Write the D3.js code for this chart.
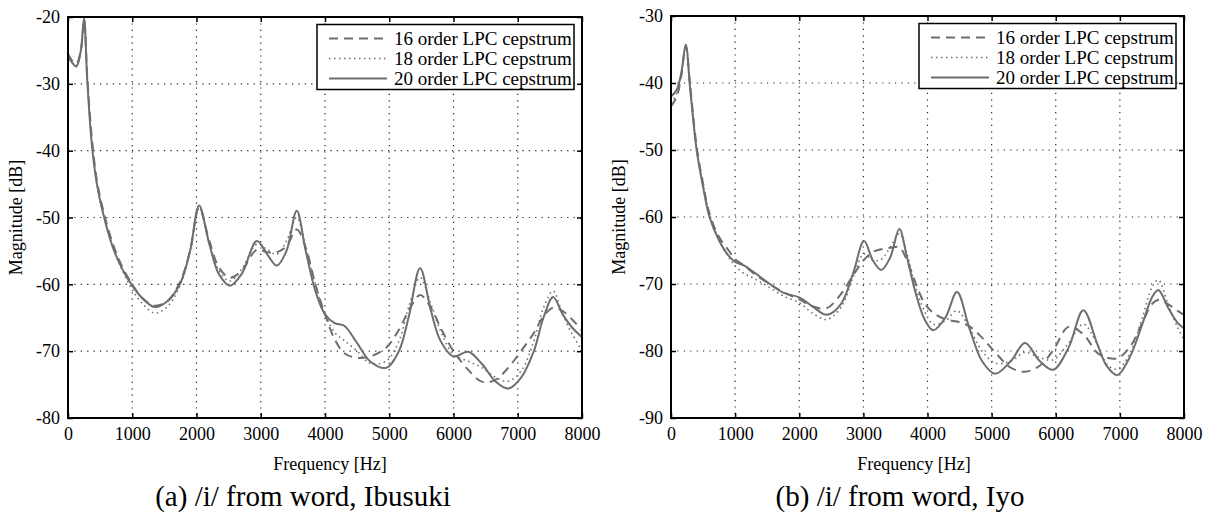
<!DOCTYPE html>
<html>
<head>
<meta charset="utf-8">
<script src="https://cdn.jsdelivr.net/npm/d3@7"></script>
<style>
    body { margin: 0; background: #fff; }
</style>
</head>
<body>
<div id="chart"></div>
<script>
// left panel: /i/ from Ibusuki
var freqA = [0, 60, 130, 200, 250, 300, 370, 450, 550, 700, 850, 1000, 1150, 1350, 1550, 1750, 1900, 2040, 2200, 2350,
    2520, 2700, 2940, 3100, 3250, 3400, 3560, 3700, 3850, 4000, 4150, 4300, 4500, 4700, 4950, 5150, 5300, 5480, 5650, 5800,
    6000, 6230, 6450, 6650, 6850, 7050, 7250, 7400, 7550, 7700, 7850, 8000];
var lpc16A = [-25.5, -26.5, -27, -25, -20.5, -29, -38, -44.5, -49, -54, -57.5, -60, -62, -63.2, -62.5, -59.5, -55, -48.5, -53.5, -57.5,
    -59, -58, -54.8, -55.2, -55.2, -54.3, -51.8, -54.5, -60, -64.5, -68.2, -70.3, -71, -70.8, -69.5, -66.8, -64, -61.6, -63.5, -66.5,
    -70, -72.8, -74.6, -74.3, -72.5, -70, -67.3, -64.8, -63.5, -64, -65.3, -66.9];
var lpc18A = [-25.6, -26.7, -27.3, -25, -20.3, -29.3, -38.5, -45, -49.5, -54.5, -58, -60.8, -62.8, -64.3, -63.3, -60, -55, -48.5, -53.8, -58,
    -59.5, -57.8, -54, -54.8, -55.5, -53.5, -50, -54.5, -60, -64.5, -67.2, -68.4, -70, -71.8, -71.5, -68.5, -63.5, -59, -63, -67,
    -70.5, -71.5, -72.5, -73.9, -74.5, -73, -68.5, -63.5, -61, -64.5, -67.5, -69.9];
var lpc20A = [-25.8, -26.8, -27.4, -25, -20.2, -29.5, -39, -45, -49.5, -54.5, -57.8, -60.2, -62, -63.4, -62.5, -59.8, -55, -48.2, -54, -58.5,
    -60.2, -58.5, -53.5, -55.5, -57.2, -55, -49, -55, -61, -64.5, -65.8, -66.2, -68.8, -71.5, -72.5, -70, -65, -57.6, -64, -68.5,
    -70.8, -70.1, -72, -74.5, -75.6, -74, -70, -65, -61.9, -64.5, -66.5, -67.9];

// right panel: /i/ from Iyo
var freqB = [0, 90, 160, 230, 300, 400, 500, 600, 750, 900, 1000, 1150, 1300, 1500, 1750, 2000, 2200, 2430, 2650, 2840,
    3010, 3150, 3280, 3420, 3560, 3680, 3800, 3950, 4090, 4280, 4460, 4650, 4850, 5055, 5300, 5520, 5750, 5960, 6200, 6430,
    6650, 6800, 6960, 7150, 7350, 7500, 7600, 7750, 7900, 8000];
var lpc16B = [-43.5, -42, -39, -34.5, -40.5, -49.5, -55, -59.5, -63, -65, -66.3, -67.3, -68.5, -69.8, -71.2, -72.3, -73.3, -73.6, -71.5, -68.7,
    -66.4, -65.2, -64.8, -64.6, -64.5, -66.5, -69.5, -72.8, -74.3, -75.3, -75.6, -76.3, -78, -80.2, -82.5, -83.1, -82.2, -79.9, -76.4, -77.5,
    -80.3, -81, -81.1, -79.5, -75.8, -73, -72.4, -73, -74, -74.6];
var lpc18B = [-43, -41.5, -38.8, -34.3, -40.8, -49.8, -55.2, -59.5, -63.5, -66, -67.3, -68.5, -69.2, -70.3, -71.8, -72.8, -74.3, -75.3, -73.5, -69,
    -65.5, -66.5, -66.3, -64.5, -62.5, -65.5, -70, -74, -76, -75.5, -74, -76.5, -80, -81.8, -81.5, -80.2, -81, -81.3, -78.8, -76,
    -79, -82, -82.7, -80.5, -75, -70.5, -69.4, -73, -76.5, -78.3];
var lpc20B = [-42, -41, -38.5, -34.3, -41, -50, -55.5, -60, -63.5, -65.8, -66.7, -67.3, -68.3, -69.7, -71.3, -72, -73.3, -74.6, -73, -68.4,
    -63.6, -66.5, -67.9, -66, -61.8, -66, -70.8, -75.2, -76.9, -75, -71.2, -76.5, -81.5, -83.4, -81.5, -78.8, -81.5, -82.8, -79.5, -73.9,
    -79, -82.3, -83.6, -81, -76, -72, -70.9, -73.5, -75.8, -76.6];

var xTicks = [0, 1000, 2000, 3000, 4000, 5000, 6000, 7000, 8000];
var yTicksA = [-80, -70, -60, -50, -40, -30, -20];
var yTicksB = [-90, -80, -70, -60, -50, -40, -30];
var seriesNames = ['16 order LPC cepstrum', '18 order LPC cepstrum', '20 order LPC cepstrum'];
var captions = ['(a) /i/ from word, Ibusuki', '(b) /i/ from word, Iyo'];

var W = 1211, H = 524;
var serif = "'Liberation Serif', 'Times New Roman', Times, serif";
var lineColour = '#6e6e6e';
var dashes = ['9,6', '1.5,3.5', null];

var svg = d3.select('#chart').append('svg')
    .attr('width', W)
    .attr('height', H)
    .style('font-family', serif);

// plain hyphen minus like the original
var tickText = function (d) { return String(d); };

var drawPanel = function (opts) {
    var x = d3.scaleLinear().domain([0, 8000]).range([opts.left, opts.right]);
    var y = d3.scaleLinear().domain(opts.yDomain).range([opts.bottom, opts.top]);
    var g = svg.append('g');

    // dotted grid
    g.selectAll('.vgrid').data(xTicks.slice(1, -1)).enter().append('line')
        .attr('x1', function (d) { return x(d); })
        .attr('x2', function (d) { return x(d); })
        .attr('y1', opts.top).attr('y2', opts.bottom)
        .attr('stroke', '#222').attr('stroke-width', 1.2).attr('stroke-dasharray', '1.2,5.2');
    g.selectAll('.hgrid').data(opts.yTicks.slice(1, -1)).enter().append('line')
        .attr('y1', function (d) { return y(d); })
        .attr('y2', function (d) { return y(d); })
        .attr('x1', opts.left).attr('x2', opts.right)
        .attr('stroke', '#222').attr('stroke-width', 1.2).attr('stroke-dasharray', '1.2,5.2');

    // curves
    var line = d3.line()
        .x(function (d) { return x(d[0]); })
        .y(function (d) { return y(d[1]); })
        .curve(d3.curveCatmullRom.alpha(0.5));

    opts.series.forEach(function (vals, i) {
        g.append('path')
            .datum(opts.freq.map(function (f, j) { return [f, vals[j]]; }))
            .attr('d', line)
            .attr('fill', 'none')
            .attr('stroke', lineColour)
            .attr('stroke-width', i === 1 ? 1.6 : 2)
            .attr('stroke-dasharray', dashes[i]);
    });

    // axes, ticks inward on all sides
    var bottom = g.append('g').attr('transform', 'translate(0,' + opts.bottom + ')')
        .call(d3.axisBottom(x).tickValues(xTicks).tickSizeInner(-5).tickSizeOuter(0).tickPadding(9).tickFormat(tickText));
    var top = g.append('g').attr('transform', 'translate(0,' + opts.top + ')')
        .call(d3.axisTop(x).tickValues(xTicks).tickSizeInner(-5).tickSizeOuter(0).tickFormat(''));
    var left = g.append('g').attr('transform', 'translate(' + opts.left + ',0)')
        .call(d3.axisLeft(y).tickValues(opts.yTicks).tickSizeInner(-5).tickSizeOuter(0).tickPadding(8).tickFormat(tickText));
    var right = g.append('g').attr('transform', 'translate(' + opts.right + ',0)')
        .call(d3.axisRight(y).tickValues(opts.yTicks).tickSizeInner(-5).tickSizeOuter(0).tickFormat(''));

    [bottom, top, left, right].forEach(function (a) {
        a.attr('font-family', null).attr('font-size', null);
        a.select('.domain').remove();
        a.selectAll('line').attr('stroke', '#000').attr('stroke-width', 1.5);
        a.selectAll('text')
            .style('font-family', serif)
            .style('font-size', '18px')
            .attr('fill', '#000');
    });

    g.append('rect')
        .attr('x', opts.left).attr('y', opts.top)
        .attr('width', opts.right - opts.left).attr('height', opts.bottom - opts.top)
        .attr('fill', 'none').attr('stroke', '#000').attr('stroke-width', 2);

    // axis titles
    g.append('text')
        .attr('x', opts.xLabelX).attr('y', 470)
        .attr('text-anchor', 'middle')
        .style('font-family', serif).style('font-size', '18px')
        .text('Frequency [Hz]');
    g.append('text')
        .attr('transform', 'translate(' + (opts.left - 46) + ',' + ((opts.top + opts.bottom) / 2) + ') rotate(-90)')
        .attr('text-anchor', 'middle')
        .style('font-family', serif).style('font-size', '18px')
        .text('Magnitude [dB]');

    // caption
    g.append('text')
        .attr('x', opts.capX).attr('y', 506)
        .attr('text-anchor', 'middle')
        .style('font-family', serif).style('font-size', '29px')
        .text(opts.caption);

    // legend
    var lg = g.append('g').attr('transform', 'translate(' + (opts.right - 265) + ',' + (opts.top + 7.5) + ')');
    lg.append('rect')
        .attr('width', 257).attr('height', 65)
        .attr('fill', '#fff').attr('stroke', '#000').attr('stroke-width', 1.5);
    var rows = lg.selectAll('.legend_row').data(seriesNames).enter().append('g')
        .attr('transform', function (d, i) { return 'translate(0,' + (14 + i * 20) + ')'; });
    rows.append('line')
        .attr('x1', 12).attr('x2', 70).attr('y1', 0).attr('y2', 0)
        .attr('stroke', lineColour)
        .attr('stroke-width', function (d, i) { return i === 1 ? 1.6 : 2; })
        .attr('stroke-dasharray', function (d, i) { return dashes[i]; });
    rows.append('text')
        .attr('x', 77).attr('y', 6)
        .style('font-family', serif).style('font-size', '19px')
        .text(function (d) { return d; });
};

drawPanel({
    left: 68, right: 582, top: 17, bottom: 418,
    yDomain: [-80, -20], yTicks: yTicksA,
    freq: freqA, series: [lpc16A, lpc18A, lpc20A],
    caption: captions[0], capX: 303, xLabelX: 330
});

drawPanel({
    left: 671, right: 1184, top: 16, bottom: 418,
    yDomain: [-90, -30], yTicks: yTicksB,
    freq: freqB, series: [lpc16B, lpc18B, lpc20B],
    caption: captions[1], capX: 900, xLabelX: 914
});
</script>
</body>
</html>
